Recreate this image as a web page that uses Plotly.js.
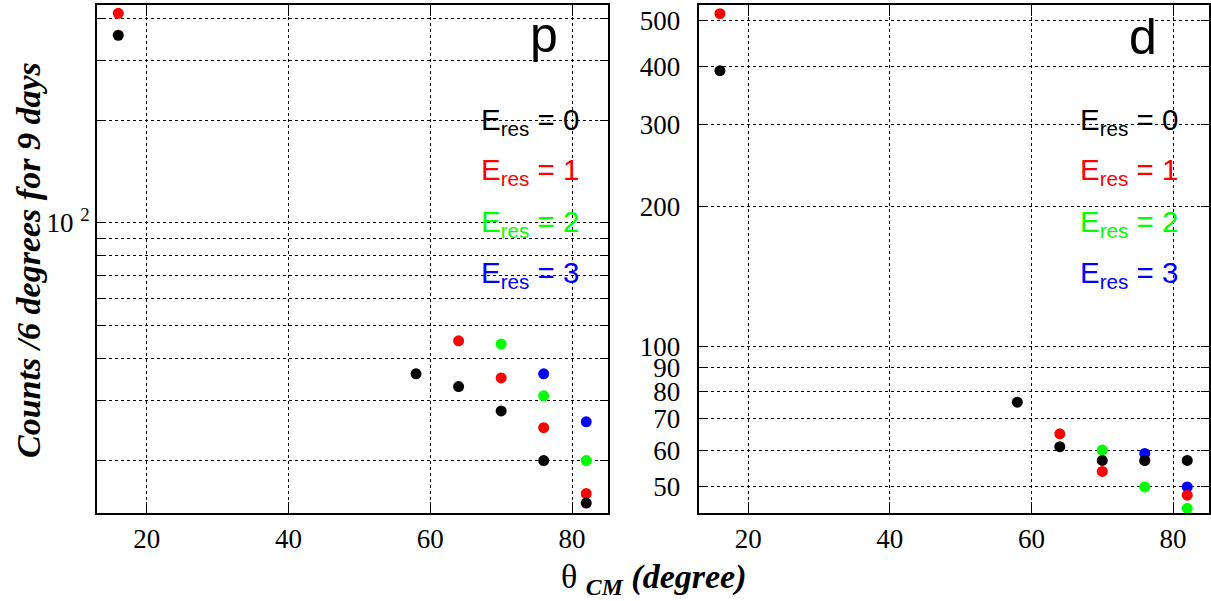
<!DOCTYPE html>
<html><head><meta charset="utf-8">
<script src="https://cdn.plot.ly/plotly-3.0.1.min.js"></script>
<style>body{margin:0;padding:0;background:#fff}</style>
</head><body><div id="chart" style="width:1211px;height:601px"></div>
<script>
// ---- data ----
const theta = [16, 58, 64, 70, 76, 82];
const pE0 = [356, 36, 33, 28, 20, 15];
const pE1 = [413, null, 45, 35, 25, 16];
const pE2 = [null, null, null, 44, 31, 20];
const pE3 = [null, null, null, null, 36, 26];
const dE0 = [391, 76, 61, 57, 57, 57];
const dE1 = [518, null, 65, 54, 57, 48];
const dE2 = [null, null, null, 60, 50, 45];
const dE3 = [null, null, null, null, 59, 50];
const seriesColors = ["#000000", "#ff0000", "#00ff00", "#0000ff"];
const legendLabels = ["E<sub>res</sub> = 0", "E<sub>res</sub> = 1", "E<sub>res</sub> = 2", "E<sub>res</sub> = 3"];
const leftYMajor = [100];
const leftYMajorText = ["10 <sup>2</sup>"];
const leftYMinor = [20, 30, 40, 50, 60, 70, 80, 90, 200, 300, 400];
const rightYTicks = [50, 60, 70, 80, 90, 100, 200, 300, 400, 500];
const rightYText = ["50", "60", "70", "80", "90", "100", "200", "300", "400", "500"];
const xTicks = [20, 40, 60, 80];
const xTickText = ["20", "40", "60", "80"];
const panelNames = ["p", "d"];
const yTitle = "Counts /6 degrees for 9 days";
const xTitle = "θ <sub><b><i>CM</i></b></sub> <b><i>(degree)</i></b>";

// ---- layout helpers ----
const W = 1211, H = 601;
const px = v => v / W;
const py = v => 1 - v / H;
const xRange = [13, 85];

const pSeries = [pE0, pE1, pE2, pE3];
const dSeries = [dE0, dE1, dE2, dE3];
const traces = [];
// draw E3 first so that black (E0) is on top
for (let i = 3; i >= 0; i--) {
  traces.push({x: theta, y: pSeries[i], xaxis: 'x', yaxis: 'y', type: 'scatter', mode: 'markers',
    marker: {color: seriesColors[i], size: 11}, showlegend: false, hoverinfo: 'x+y'});
}
for (let i = 3; i >= 0; i--) {
  traces.push({x: theta, y: dSeries[i], xaxis: 'x2', yaxis: 'y2', type: 'scatter', mode: 'markers',
    marker: {color: seriesColors[i], size: 11}, showlegend: false, hoverinfo: 'x+y'});
}

const tickFont = {family: 'Liberation Serif', size: 27, color: '#000'};
const gridStyle = {showgrid: true, gridcolor: '#000', gridwidth: 1, griddash: 'dot'};
function xAxis(domain, anchor) {
  return Object.assign({domain: domain, anchor: anchor, range: xRange, tickmode: 'array',
    tickvals: xTicks, ticktext: xTickText,
    ticks: 'inside', ticklen: 11, tickwidth: 1, tickcolor: '#000',
    showline: true, linecolor: '#000', linewidth: 2, mirror: 'ticks',
    zeroline: false, tickfont: tickFont, ticklabelstandoff: 0}, gridStyle);
}
// overlay axis carrying only the small ticks every 5 degrees
function xMinorAxis(over, domain, anchor) {
  return {overlaying: over, domain: domain, anchor: anchor, range: xRange, tickmode: 'linear', tick0: 0, dtick: 5,
    ticks: 'inside', ticklen: 5, tickwidth: 1, tickcolor: '#000', showticklabels: false,
    showline: true, linecolor: '#000', linewidth: 2, mirror: 'ticks', showgrid: false, zeroline: false};
}
function yAxis(domain, anchor, range, vals, text, minorVals, standoff) {
  const ax = Object.assign({domain: domain, anchor: anchor, type: 'log', range: range, tickmode: 'array',
    tickvals: vals, ticktext: text,
    ticks: 'inside', ticklen: 8, tickwidth: 1, tickcolor: '#000',
    showline: true, linecolor: '#000', linewidth: 2, mirror: 'ticks',
    zeroline: false, tickfont: tickFont, ticklabelstandoff: standoff}, gridStyle);
  if (minorVals) {
    ax.minor = Object.assign({tickmode: 'array', tickvals: minorVals, ticks: 'inside', ticklen: 8,
      tickcolor: '#000'}, gridStyle);
  }
  return ax;
}
const yDom = [1 - 513.3 / H, 1 - 5.3 / H];
const xDomL = [97 / W, 607.5 / W];
const xDomR = [698.7 / W, 1208.5 / W];

const annotations = [];
const legendX = [479, 1078];
const legendY = [121, 172, 223, 274];
const legendFont = 'Liberation Sans, Arial, sans-serif';
for (let p = 0; p < 2; p++) {
  for (let i = 0; i < 4; i++) {
    annotations.push({xref: 'paper', yref: 'paper', x: px(legendX[p]), y: py(legendY[i]),
      xanchor: 'left', yanchor: 'middle', showarrow: false, text: legendLabels[i],
      font: {family: legendFont, size: 29.5, color: seriesColors[i]}});
  }
}
annotations.push({xref: 'paper', yref: 'paper', x: px(528), y: py(35), xanchor: 'left', yanchor: 'middle',
  showarrow: false, text: panelNames[0], font: {family: legendFont, size: 50, color: '#000'}});
annotations.push({xref: 'paper', yref: 'paper', x: px(1127), y: py(37), xanchor: 'left', yanchor: 'middle',
  showarrow: false, text: panelNames[1], font: {family: legendFont, size: 50, color: '#000'}});
annotations.push({xref: 'paper', yref: 'paper', x: px(28), y: py(260), xanchor: 'center', yanchor: 'middle',
  textangle: -90, showarrow: false, text: '<b><i>' + yTitle + '</i></b>',
  font: {family: 'Liberation Serif', size: 34, color: '#000'}});
annotations.push({xref: 'paper', yref: 'paper', x: px(654), y: py(579), xanchor: 'center', yanchor: 'middle',
  showarrow: false, text: xTitle,
  font: {family: 'Liberation Serif', size: 34, color: '#000'}});

const layout = {
  width: W, height: H, margin: {l: 0, r: 0, t: 0, b: 0},
  paper_bgcolor: '#fff', plot_bgcolor: '#fff', showlegend: false,
  xaxis: xAxis(xDomL, 'y'),
  yaxis: yAxis(yDom, 'x', [Math.log10(14.0), Math.log10(436)], leftYMajor, leftYMajorText, leftYMinor, 0),
  xaxis2: xAxis(xDomR, 'y2'),
  yaxis2: yAxis(yDom, 'x2', [Math.log10(43.9), Math.log10(540)], rightYTicks, rightYText, null, 11),
  xaxis3: xMinorAxis('x', xDomL, 'y'),
  xaxis4: xMinorAxis('x2', xDomR, 'y2'),
  annotations: annotations
};
Plotly.newPlot('chart', traces, layout, {displayModeBar: false, staticPlot: true});
</script></body></html>
